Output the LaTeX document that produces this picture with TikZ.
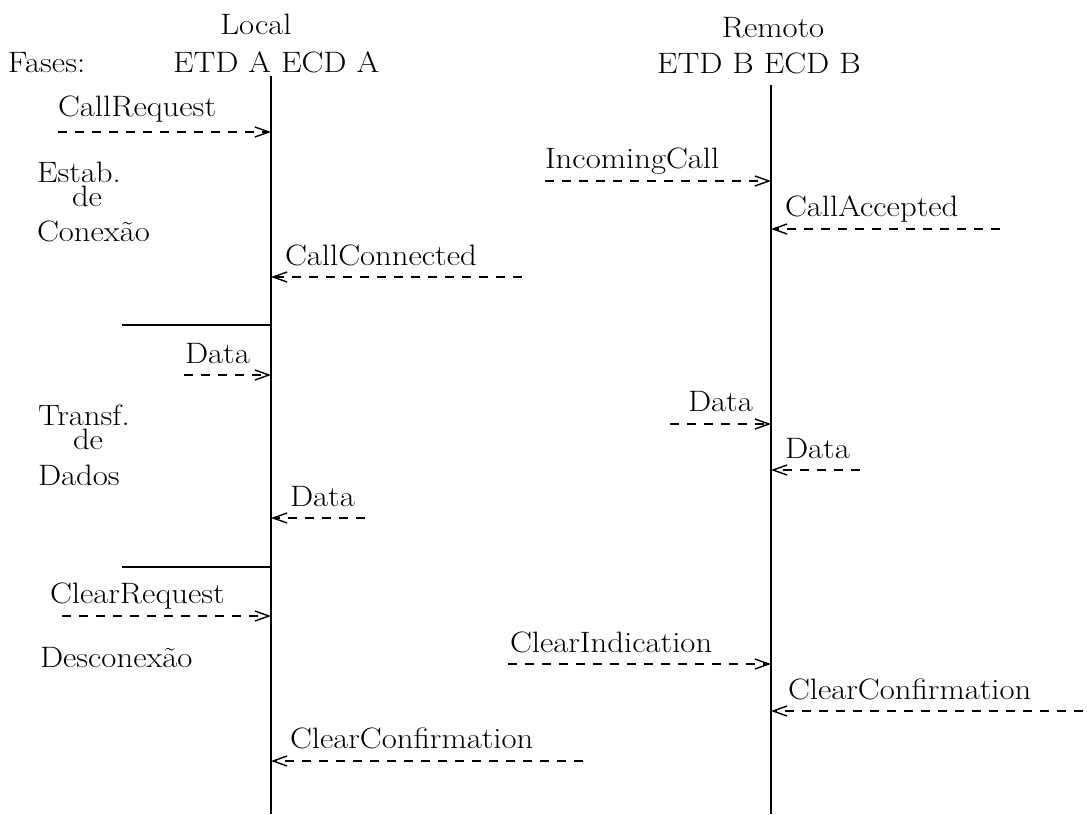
\documentclass[tikz,border=0pt]{standalone}
\usepackage{graphicx}
\usetikzlibrary{arrows.meta}
\newcommand\wtxt[1]{\scalebox{1.11}[1]{#1}}
\begin{document}
\begin{tikzpicture}[x=1pt,y=-1pt,
  every node/.style={inner sep=0pt, outer sep=0pt, font=\fontsize{29.5}{35}\selectfont},
  lbl/.style={anchor=base west},
  hdr/.style={anchor=base},
  msg/.style={line width=1.6pt, dash pattern=on 9pt off 8pt,
    -{Straight Barb[length=14pt,width=10pt,line width=1.4pt]}},
  life/.style={line width=2.2pt},
  sepline/.style={line width=1.8pt}]
\useasboundingbox (0,0) rectangle (1087,814);

% headers
\node[hdr] (local) at (256,34) {\wtxt{Local}};
\node[lbl] (etda) at (173,72) {\wtxt{ETD A ECD A}};
\node[lbl] (fases) at (8,72) {\wtxt{Fases:}};
\node[hdr] (remoto) at (773,37) {\wtxt{Remoto}};
\node[lbl] (etdb) at (657,73) {\wtxt{ETD B ECD B}};

% lifelines
\coordinate (atop) at (271,76);
\coordinate (abot) at (271,814);
\coordinate (btop) at (771,85);
\coordinate (bbot) at (771,814);
\draw[life] (atop) -- (abot);
\draw[life] (btop) -- (bbot);

% phase separators
\coordinate (s1a) at (122,325); \coordinate (s1b) at (271,325);
\coordinate (s2a) at (122,567); \coordinate (s2b) at (271,567);
\draw[sepline] (s1a) -- (s1b);
\draw[sepline] (s2a) -- (s2b);

% phase labels
\node[lbl] (p1a) at (37,182) {\wtxt{Estab.}};
\node[lbl] (p1b) at (72,206) {\wtxt{de}};
\node[lbl] (p1c) at (37,241) {\wtxt{Conexão}};
\node[lbl] (p2a) at (38,425) {\wtxt{Transf.}};
\node[lbl] (p2b) at (73,449) {\wtxt{de}};
\node[lbl] (p2c) at (38,485) {\wtxt{Dados}};
\node[lbl] (p3) at (40,667) {\wtxt{Desconexão}};

% messages
\coordinate (m1s) at (58,132);  \coordinate (m1e) at (271,132);
\draw[msg] (m1s) -- (m1e);
\node[lbl] (l1) at (58,116) {\wtxt{CallRequest}};

\coordinate (m2s) at (545,181); \coordinate (m2e) at (771,181);
\draw[msg] (m2s) -- (m2e);
\node[lbl] (l2) at (545,168) {\wtxt{IncomingCall}};

\coordinate (m3s) at (1000,229); \coordinate (m3e) at (771,229);
\draw[msg] (m3s) -- (m3e);
\node[lbl] (l3) at (785,216) {\wtxt{CallAccepted}};

\coordinate (m4s) at (522,277); \coordinate (m4e) at (271,277);
\draw[msg] (m4s) -- (m4e);
\node[lbl] (l4) at (285,265) {\wtxt{CallConnected}};

\coordinate (m5s) at (184,375); \coordinate (m5e) at (271,375);
\draw[msg] (m5s) -- (m5e);
\node[lbl] (l5) at (185,363) {\wtxt{Data}};

\coordinate (m6s) at (670,424); \coordinate (m6e) at (771,424);
\draw[msg] (m6s) -- (m6e);
\node[lbl] (l6) at (688,411) {\wtxt{Data}};

\coordinate (m7s) at (860,470); \coordinate (m7e) at (771,470);
\draw[msg] (m7s) -- (m7e);
\node[lbl] (l7) at (785,458) {\wtxt{Data}};

\coordinate (m8s) at (365,518); \coordinate (m8e) at (271,518);
\draw[msg] (m8s) -- (m8e);
\node[lbl] (l8) at (290,506) {\wtxt{Data}};

\coordinate (m9s) at (62,616); \coordinate (m9e) at (271,616);
\draw[msg] (m9s) -- (m9e);
\node[lbl] (l9) at (50,603) {\wtxt{ClearRequest}};

\coordinate (m10s) at (508,664); \coordinate (m10e) at (771,664);
\draw[msg] (m10s) -- (m10e);
\node[lbl] (l10) at (510,652) {\wtxt{ClearIndication}};

\coordinate (m11s) at (1083,711); \coordinate (m11e) at (771,711);
\draw[msg] (m11s) -- (m11e);
\node[lbl] (l11) at (788,699) {\wtxt{ClearConfirmation}};

\coordinate (m12s) at (583,761); \coordinate (m12e) at (271,761);
\draw[msg] (m12s) -- (m12e);
\node[lbl] (l12) at (290,748) {\wtxt{ClearConfirmation}};
\end{tikzpicture}
\end{document}
